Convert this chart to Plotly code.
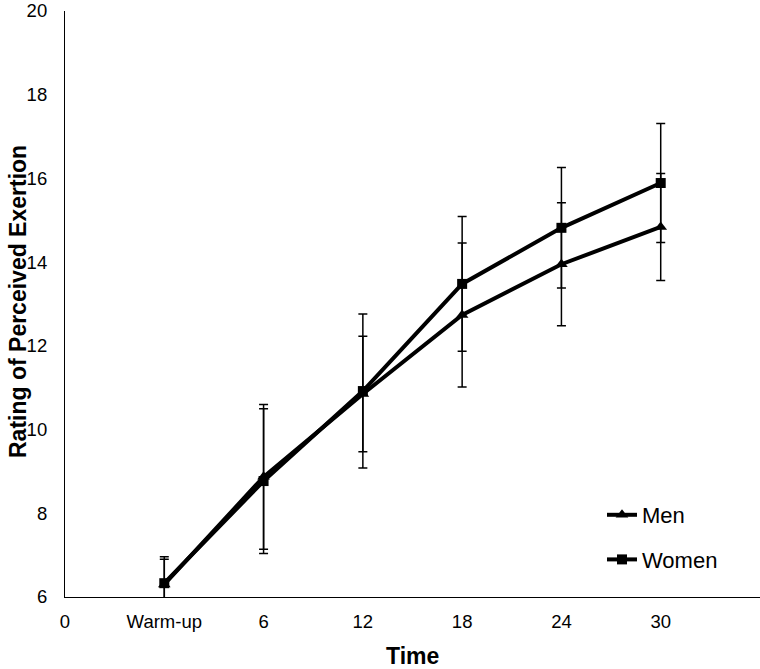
import plotly.graph_objects as go

# Data
x_pos = [1, 2, 3, 4, 5, 6]
tick_vals = [0, 1, 2, 3, 4, 5, 6]
tick_text = ["0", "Warm-up", "6", "12", "18", "24", "30"]
y_ticks = [6, 8, 10, 12, 14, 16, 18, 20]

men = [6.30, 8.87, 10.85, 12.74, 13.95, 14.84]
men_sd = [0.60, 1.73, 1.38, 1.72, 1.47, 1.28]
women = [6.33, 8.77, 10.92, 13.48, 14.82, 15.89]
women_sd = [0.63, 1.73, 1.84, 1.61, 1.44, 1.42]

FONT = "Liberation Sans, Arial, sans-serif"

fig = go.Figure()
fig.add_trace(go.Scatter(
    x=x_pos, y=men, name="Men", mode="lines+markers", legendgroup="m",
    line=dict(color="black", width=4),
    marker=dict(symbol="triangle-up", size=11, color="black"),
    error_y=dict(type="data", array=men_sd, visible=True, color="black",
                 thickness=1.5, width=4.5),
))
fig.add_trace(go.Scatter(
    x=x_pos, y=women, name="Women", mode="lines+markers", legendgroup="w",
    line=dict(color="black", width=4),
    marker=dict(symbol="square", size=10, color="black"),
    error_y=dict(type="data", array=women_sd, visible=True, color="black",
                 thickness=1.5, width=4.5),
))

W, H = 760, 669
ml, mr, mt, mb = 65, 0, 11, 72
pw = W - ml - mr
ph = H - mt - mb

fig.update_layout(
    width=W, height=H,
    margin=dict(l=ml, r=mr, t=mt, b=mb, autoexpand=False),
    paper_bgcolor="white", plot_bgcolor="white",
    font=dict(family=FONT, color="black"),
    showlegend=True,
    hovermode=False,
    legend=dict(
        x=(602 - ml) / pw, y=(mt + ph - 494) / ph, xanchor="left", yanchor="top",
        font=dict(family=FONT, size=22, color="black"),
        bgcolor="rgba(0,0,0,0)", tracegroupgap=13,
    ),
    xaxis=dict(
        range=[0, 7], tickmode="array", tickvals=tick_vals, ticktext=tick_text,
        showgrid=False, zeroline=False, showline=True, linecolor="black", linewidth=1.2,
        ticks="", tickfont=dict(family=FONT, size=18.5, color="black"),
        ticklabelstandoff=8, automargin=False, ticklabeloverflow="allow",
    ),
    yaxis=dict(
        range=[6, 20], tickmode="array", tickvals=y_ticks,
        showgrid=False, zeroline=False, showline=True, linecolor="black", linewidth=1.2,
        ticks="", tickfont=dict(family=FONT, size=18.5, color="black"),
        ticklabelstandoff=13, automargin=False, ticklabeloverflow="allow",
    ),
    annotations=[
        dict(text="Time", xref="paper", yref="paper", x=(412.5 - ml) / pw,
             y=(mt + ph - 656) / ph, xanchor="center", yanchor="middle", showarrow=False,
             font=dict(family=FONT, size=23, color="black", weight="bold")),
        dict(text="Rating of Perceived Exertion", xref="paper", yref="paper",
             x=(18 - ml) / pw, y=(mt + ph - 302) / ph, xanchor="center", yanchor="middle",
             textangle=-90, showarrow=False,
             font=dict(family=FONT, size=23, color="black", weight="bold")),
    ],
)

fig.write_html(
    "out.html",
    config={"displayModeBar": False},
    post_script="document.body.style.margin='0';document.body.style.overflow='hidden';",
)
